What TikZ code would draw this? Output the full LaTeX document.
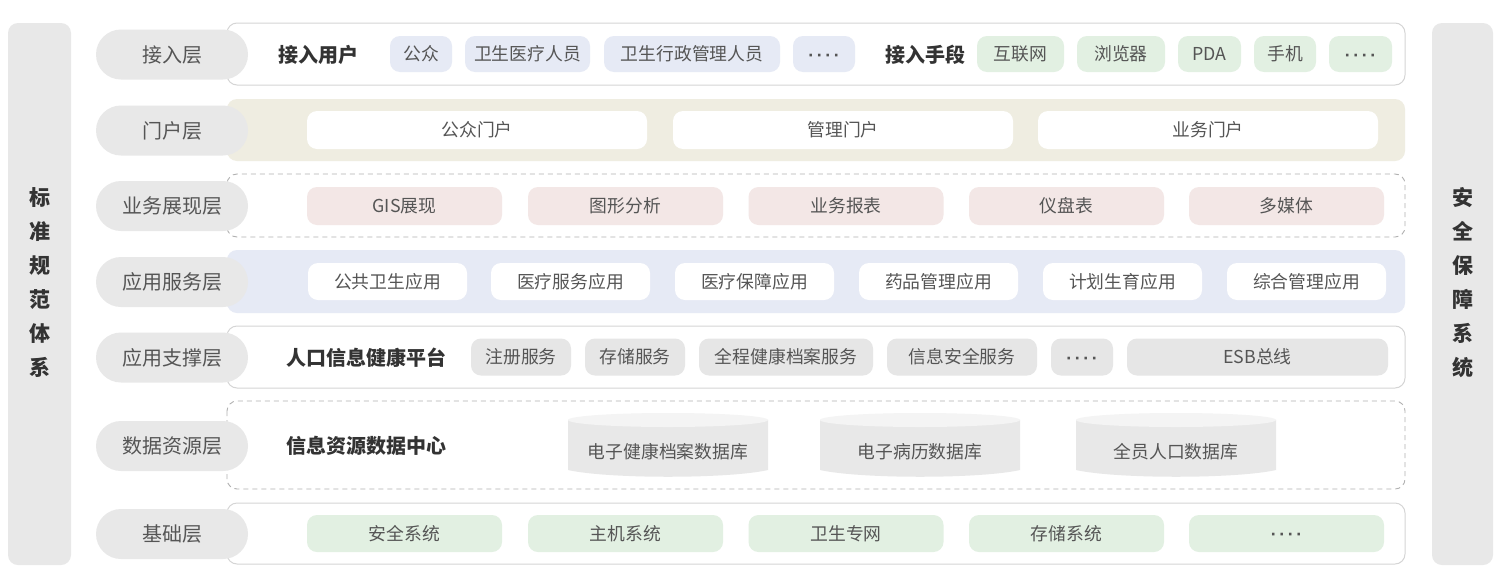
\documentclass[tikz,border=0pt]{standalone}
\usepackage{fontspec}
\setmainfont{Noto Sans CJK SC}
\newfontfamily\cjk{Noto Sans CJK SC}
\newfontfamily\latinf{Liberation Sans}
\newcommand{\mydots}{\raisebox{-7pt}[0pt][0pt]{\latinf\bfseries ·\kern2.6pt·\kern2.6pt·\kern2.6pt·}}
\definecolor{lblgray}{HTML}{E8E8E8}
\definecolor{pblue}{HTML}{E6EAF5}
\definecolor{pgreen}{HTML}{E2F0E2}
\definecolor{portalbg}{HTML}{EFEDE1}
\definecolor{ppink}{HTML}{F3E7E6}
\definecolor{pgray}{HTML}{E6E6E6}
\definecolor{txt}{HTML}{555555}
\definecolor{head}{HTML}{333333}
\definecolor{rowline}{HTML}{D5D5D5}
\definecolor{dashline}{HTML}{B0B0B0}
\definecolor{cylbody}{HTML}{E8E8E8}
\definecolor{cyltop}{HTML}{F4F4F4}
\begin{document}
\begin{tikzpicture}[x=1pt,y=-1pt,
  sidebar/.style={fill=lblgray, rounded corners=10pt},
  sidetext/.style={text=head, font=\cjk\bfseries\fontsize{21}{34}\selectfont, align=center, inner sep=0pt},
  layerlabel/.style={fill=lblgray, rounded corners=25pt, minimum width=152pt, minimum height=50pt, text=txt, font=\cjk\fontsize{20}{23}\selectfont, inner sep=0pt},
  rowsolid/.style={draw=rowline, line width=1pt, fill=white, rounded corners=10pt},
  rowdash/.style={draw=dashline, line width=0.9pt, dash pattern=on 5pt off 4pt, rounded corners=10pt},
  rowfill/.style={fill=#1, rounded corners=10pt},
  pill/.style={fill=#1, rounded corners=10pt, text=txt, font=\cjk\fontsize{17.8}{20}\selectfont, inner sep=0pt},
  heading/.style={text=head, font=\cjk\bfseries\fontsize{20}{23}\selectfont, inner sep=0pt},
  cyltext/.style={text=txt, font=\cjk\fontsize{17.8}{20}\selectfont, inner sep=0pt}
]
\useasboundingbox (0,0) rectangle (1506,584);
\fill[white] (0,0) rectangle (1506,584);

% side bars
\fill[sidebar] (8,23) rectangle (71,565);
\fill[sidebar] (1432,23) rectangle (1493,565);
\node[sidetext] (lefttxt) at (39.5,283) {标\\准\\规\\范\\体\\系};
\node[sidetext] (righttxt) at (1462.5,283) {安\\全\\保\\障\\系\\统};

% row backgrounds
\draw[rowsolid] (227,23) rectangle (1405,85);
\fill[rowfill=portalbg] (227,99) rectangle (1405,161);
\draw[rowdash] (227,174) rectangle (1405,237);
\fill[rowfill=pblue] (227,250) rectangle (1405,313);
\draw[rowsolid] (227,326) rectangle (1405,388);
\draw[rowdash] (227,401) rectangle (1405,489);
\draw[rowsolid] (227,503) rectangle (1405,564);

% layer labels
\node[layerlabel] (L1) at (172,54.5) {接入层};
\node[layerlabel] (L2) at (172,130.5) {门户层};
\node[layerlabel] (L3) at (172,206) {业务展现层};
\node[layerlabel] (L4) at (172,282) {应用服务层};
\node[layerlabel] (L5) at (172,357.5) {应用支撑层};
\node[layerlabel] (L6) at (172,446) {数据资源层};
\node[layerlabel] (L7) at (172,534) {基础层};

% row 1
\node[heading] (h1) at (318,55) {接入用户};
\node[pill=pblue, minimum width=62pt, minimum height=36pt] (u1) at (421,54) {公众};
\node[pill=pblue, minimum width=125pt, minimum height=36pt] (u2) at (527.5,54) {卫生医疗人员};
\node[pill=pblue, minimum width=176pt, minimum height=36pt] (u3) at (692,54) {卫生行政管理人员};
\node[pill=pblue, minimum width=62pt, minimum height=36pt] (u4) at (824,54) {\mydots};
\node[heading] (h2) at (925,55) {接入手段};
\node[pill=pgreen, minimum width=87pt, minimum height=36pt] (m1) at (1020.5,54) {互联网};
\node[pill=pgreen, minimum width=88pt, minimum height=36pt] (m2) at (1121,54) {浏览器};
\node[pill=pgreen, minimum width=63pt, minimum height=36pt] (m3) at (1209.5,54) {PDA};
\node[pill=pgreen, minimum width=62pt, minimum height=36pt] (m4) at (1285,54) {手机};
\node[pill=pgreen, minimum width=63pt, minimum height=36pt] (m5) at (1360.5,54) {\mydots};

% row 2
\node[pill=white, minimum width=340pt, minimum height=38pt] (p1) at (477,130) {公众门户};
\node[pill=white, minimum width=340pt, minimum height=38pt] (p2) at (843,130) {管理门户};
\node[pill=white, minimum width=340pt, minimum height=38pt] (p3) at (1208,130) {业务门户};

% row 3
\node[pill=ppink, minimum width=195pt, minimum height=38pt] (b1) at (404.5,206) {GIS展现};
\node[pill=ppink, minimum width=195pt, minimum height=38pt] (b2) at (625.5,206) {图形分析};
\node[pill=ppink, minimum width=195pt, minimum height=38pt] (b3) at (846,206) {业务报表};
\node[pill=ppink, minimum width=195pt, minimum height=38pt] (b4) at (1066.5,206) {仪盘表};
\node[pill=ppink, minimum width=195pt, minimum height=38pt] (b5) at (1286.5,206) {多媒体};

% row 4
\node[pill=white, minimum width=159pt, minimum height=37pt] (a1) at (387.5,281.5) {公共卫生应用};
\node[pill=white, minimum width=159pt, minimum height=37pt] (a2) at (570.5,281.5) {医疗服务应用};
\node[pill=white, minimum width=159pt, minimum height=37pt] (a3) at (754.5,281.5) {医疗保障应用};
\node[pill=white, minimum width=159pt, minimum height=37pt] (a4) at (938.5,281.5) {药品管理应用};
\node[pill=white, minimum width=159pt, minimum height=37pt] (a5) at (1122.5,281.5) {计划生育应用};
\node[pill=white, minimum width=159pt, minimum height=37pt] (a6) at (1306.5,281.5) {综合管理应用};

% row 5
\node[heading] (h3) at (366,357.5) {人口信息健康平台};
\node[pill=pgray, minimum width=100pt, minimum height=37pt] (s1) at (521,357) {注册服务};
\node[pill=pgray, minimum width=100pt, minimum height=37pt] (s2) at (635,357) {存储服务};
\node[pill=pgray, minimum width=174pt, minimum height=37pt] (s3) at (786,357) {全程健康档案服务};
\node[pill=pgray, minimum width=150pt, minimum height=37pt] (s4) at (962,357) {信息安全服务};
\node[pill=pgray, minimum width=62pt, minimum height=37pt] (s5) at (1082,357) {\mydots};
\node[pill=pgray, minimum width=261pt, minimum height=37pt] (s6) at (1257.5,357) {ESB总线};

% row 6
\node[heading] (h4) at (366,446) {信息资源数据中心};
\foreach \cx/\nm/\lab in {668/d1/电子健康档案数据库, 920/d2/电子病历数据库, 1176/d3/全员人口数据库}{
  \fill[cylbody] (\cx-100,420) -- (\cx-100,470) .. controls (\cx-60,479) and (\cx+60,479) .. (\cx+100,470) -- (\cx+100,420) -- cycle;
  \fill[cyltop] (\cx,420) ellipse [x radius=100pt, y radius=7pt];
  \node[cyltext] (\nm) at (\cx,452) {\lab};
}

% row 7
\node[pill=pgreen, minimum width=195pt, minimum height=37pt] (f1) at (404.5,533.5) {安全系统};
\node[pill=pgreen, minimum width=195pt, minimum height=37pt] (f2) at (625.5,533.5) {主机系统};
\node[pill=pgreen, minimum width=195pt, minimum height=37pt] (f3) at (846,533.5) {卫生专网};
\node[pill=pgreen, minimum width=195pt, minimum height=37pt] (f4) at (1066.5,533.5) {存储系统};
\node[pill=pgreen, minimum width=195pt, minimum height=37pt] (f5) at (1286.5,533.5) {\mydots};
\end{tikzpicture}
\end{document}
